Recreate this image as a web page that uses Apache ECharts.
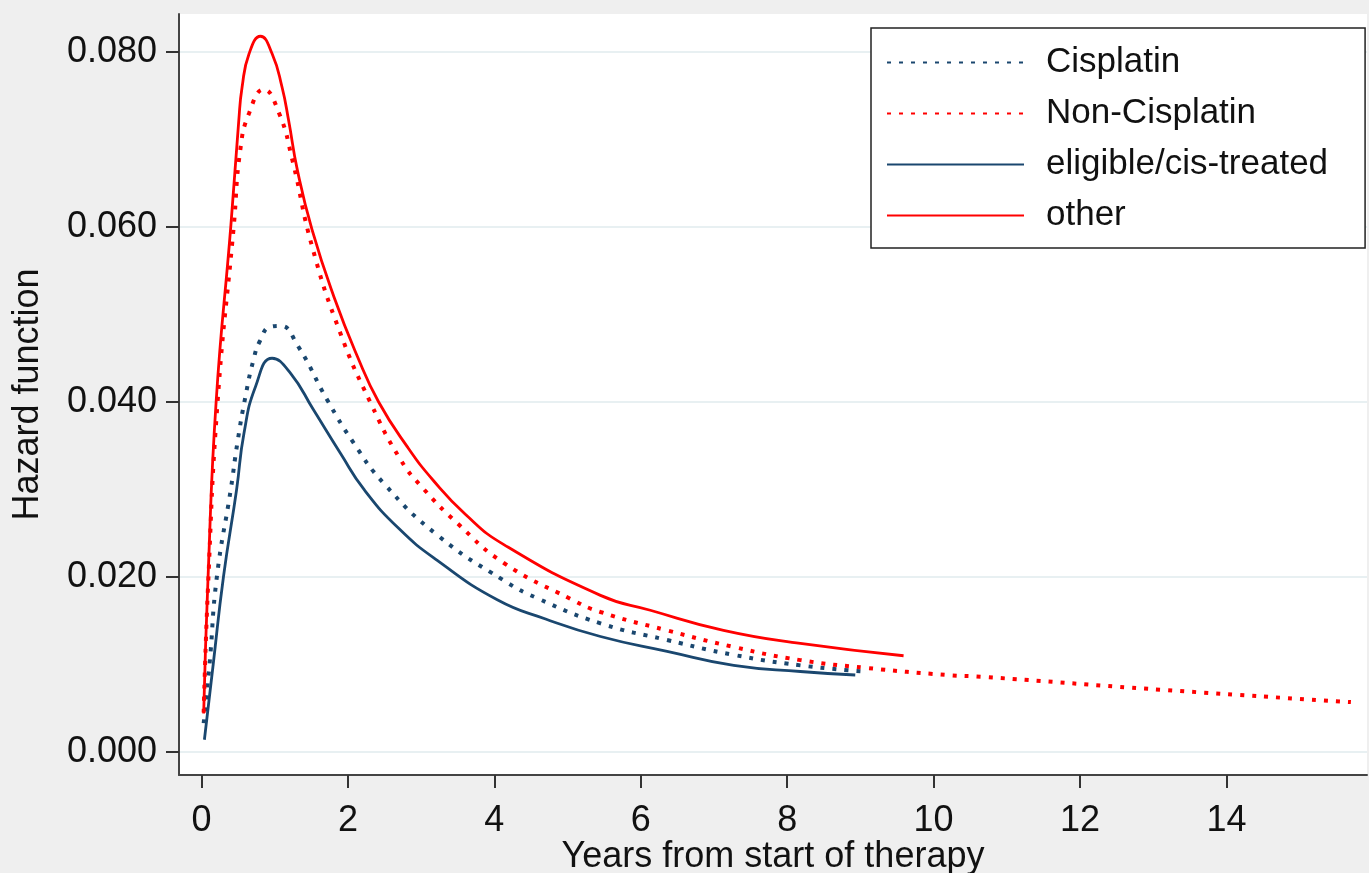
<!DOCTYPE html>
<html>
<head>
<meta charset="utf-8">
<script src="https://cdn.jsdelivr.net/npm/echarts@6/dist/echarts.min.js"></script>
<style>
  html, body { margin: 0; padding: 0; background: #efefef; }
  #chart { width: 1369px; height: 873px; }
</style>
</head>
<body>
<div id="chart"></div>
<script>
// years from start of therapy / hazard
const cisT = [0.03, 0.11, 0.21, 0.40, 0.49, 0.60, 0.71, 0.80, 0.94, 1.08, 1.31, 1.72, 2.08, 2.49, 3.22, 4.13, 4.58, 5.45, 6.36, 7.27, 8.18, 9.06]
const cisH = [0.0033, 0.010, 0.020, 0.030, 0.0353, 0.0406, 0.0448, 0.0470, 0.0486, 0.0487, 0.0465, 0.0402, 0.0353, 0.0307, 0.0248, 0.0196, 0.0176, 0.0147, 0.0128, 0.0111, 0.0099, 0.0092]

const nonCisT = [0.03, 0.09, 0.22, 0.44, 0.53, 0.65, 0.85, 1.06, 1.24, 1.51, 1.90, 2.31, 2.72, 3.03, 3.50, 4.13, 5.04, 5.45, 6.36, 7.27, 8.18, 9.09, 10.18, 10.65, 13.13, 15.70]
const nonCisH = [0.0045, 0.019, 0.040, 0.060, 0.0688, 0.0730, 0.0757, 0.0730, 0.0677, 0.0578, 0.0478, 0.0399, 0.0334, 0.0301, 0.0261, 0.0216, 0.0175, 0.0160, 0.0139, 0.0120, 0.0105, 0.0096, 0.0088, 0.0086, 0.0071, 0.0057]

const eligT = [0.04, 0.16, 0.30, 0.48, 0.58, 0.74, 0.965, 1.215, 1.53, 1.90, 2.22, 2.70, 3.22, 4.04, 4.70, 5.45, 6.36, 7.27, 8.18, 8.93]
const eligH = [0.0014, 0.010, 0.020, 0.030, 0.0364, 0.0418, 0.0450, 0.0433, 0.0391, 0.0341, 0.0300, 0.0255, 0.0219, 0.0174, 0.0152, 0.0132, 0.0115, 0.0099, 0.0092, 0.0088]

const otherT = [0.03, 0.09, 0.20, 0.40, 0.51, 0.555, 0.65, 0.805, 0.965, 1.10, 1.19, 1.31, 1.51, 1.81, 2.13, 2.42, 2.81, 3.17, 3.60, 4.13, 5.45, 6.13, 7.13, 8.18, 9.59]
const otherH = [0.0044, 0.020, 0.040, 0.060, 0.0722, 0.0760, 0.0798, 0.0818, 0.0798, 0.0760, 0.0722, 0.0665, 0.0597, 0.0520, 0.0452, 0.0400, 0.0349, 0.0310, 0.0272, 0.0237, 0.0179, 0.0162, 0.0139, 0.0124, 0.0110]

const xTicks = [0, 2, 4, 6, 8, 10, 12, 14]
const yTicks = [0, 0.02, 0.04, 0.06, 0.08]

const pairs = (t, h) => t.map((x, i) => [x, h[i]])
const navy = '#1a476f'
const red = '#ff0000'
const font = 'Liberation Sans, Arial, sans-serif'
const dots = [4, 8]

function line(name, t, h, color, dotted) {
  return {
    name: name,
    type: 'line',
    data: pairs(t, h),
    symbol: 'none',
    smooth: 0.5,
    color: color,
    lineStyle: dotted
      ? { color: color, width: 4, type: dots, cap: 'butt' }
      : { color: color, width: 2.8 },
  }
}

const chart = echarts.init(document.getElementById('chart'))
chart.setOption({
  backgroundColor: '#efefef',
  animation: false,
  grid: {
    left: 179, top: 14, right: 2, bottom: 98,
    show: true, backgroundColor: '#fff', borderWidth: 0,
    outerBoundsMode: 'none',
  },
  legend: {
    orient: 'vertical',
    left: 871,
    top: 28,
    backgroundColor: '#fff',
    borderColor: '#222',
    borderWidth: 1.5,
    borderRadius: 0,
    padding: [17, 37, 15, 15],
    itemWidth: 137,
    itemHeight: 14,
    itemGap: 16,
    itemStyle: { opacity: 0 },
    textStyle: { fontSize: 35, fontFamily: font, color: '#111', lineHeight: 34, padding: [0, 0, 0, 17] },
    data: ['Cisplatin', 'Non-Cisplatin', 'eligible/cis-treated', 'other'],
  },
  xAxis: {
    type: 'value',
    min: -0.307,
    max: 15.92,
    name: 'Years from start of therapy',
    nameLocation: 'middle',
    nameGap: 64,
    nameMoveOverlap: false,
    nameTextStyle: { fontSize: 36, fontFamily: font, color: '#111' },
    axisLine: { show: true, onZero: false, lineStyle: { color: '#444', width: 2 } },
    axisTick: { show: true, length: 13, customValues: xTicks, lineStyle: { color: '#333', width: 2 } },
    axisLabel: { customValues: xTicks, fontSize: 36, fontFamily: font, color: '#111', margin: 28 },
    splitLine: { show: false },
  },
  yAxis: {
    type: 'value',
    min: -0.00263,
    max: 0.08434,
    name: 'Hazard function',
    nameLocation: 'middle',
    nameGap: 133,
    nameMoveOverlap: false,
    nameTextStyle: { fontSize: 36, fontFamily: font, color: '#111' },
    axisLine: { show: true, onZero: false, lineStyle: { color: '#444', width: 2 } },
    axisTick: { show: true, length: 13, customValues: yTicks, lineStyle: { color: '#333', width: 2 } },
    axisLabel: {
      customValues: yTicks, fontSize: 36, fontFamily: font, color: '#111', margin: 22,
      formatter: (v) => v.toFixed(3),
    },
    splitLine: { show: true, lineStyle: { color: '#e8f0f2', width: 2 } },
  },
  series: [
    line('Cisplatin', cisT, cisH, navy, true),
    line('Non-Cisplatin', nonCisT, nonCisH, red, true),
    line('eligible/cis-treated', eligT, eligH, navy, false),
    line('other', otherT, otherH, red, false),
  ],
})
</script>
</body>
</html>
